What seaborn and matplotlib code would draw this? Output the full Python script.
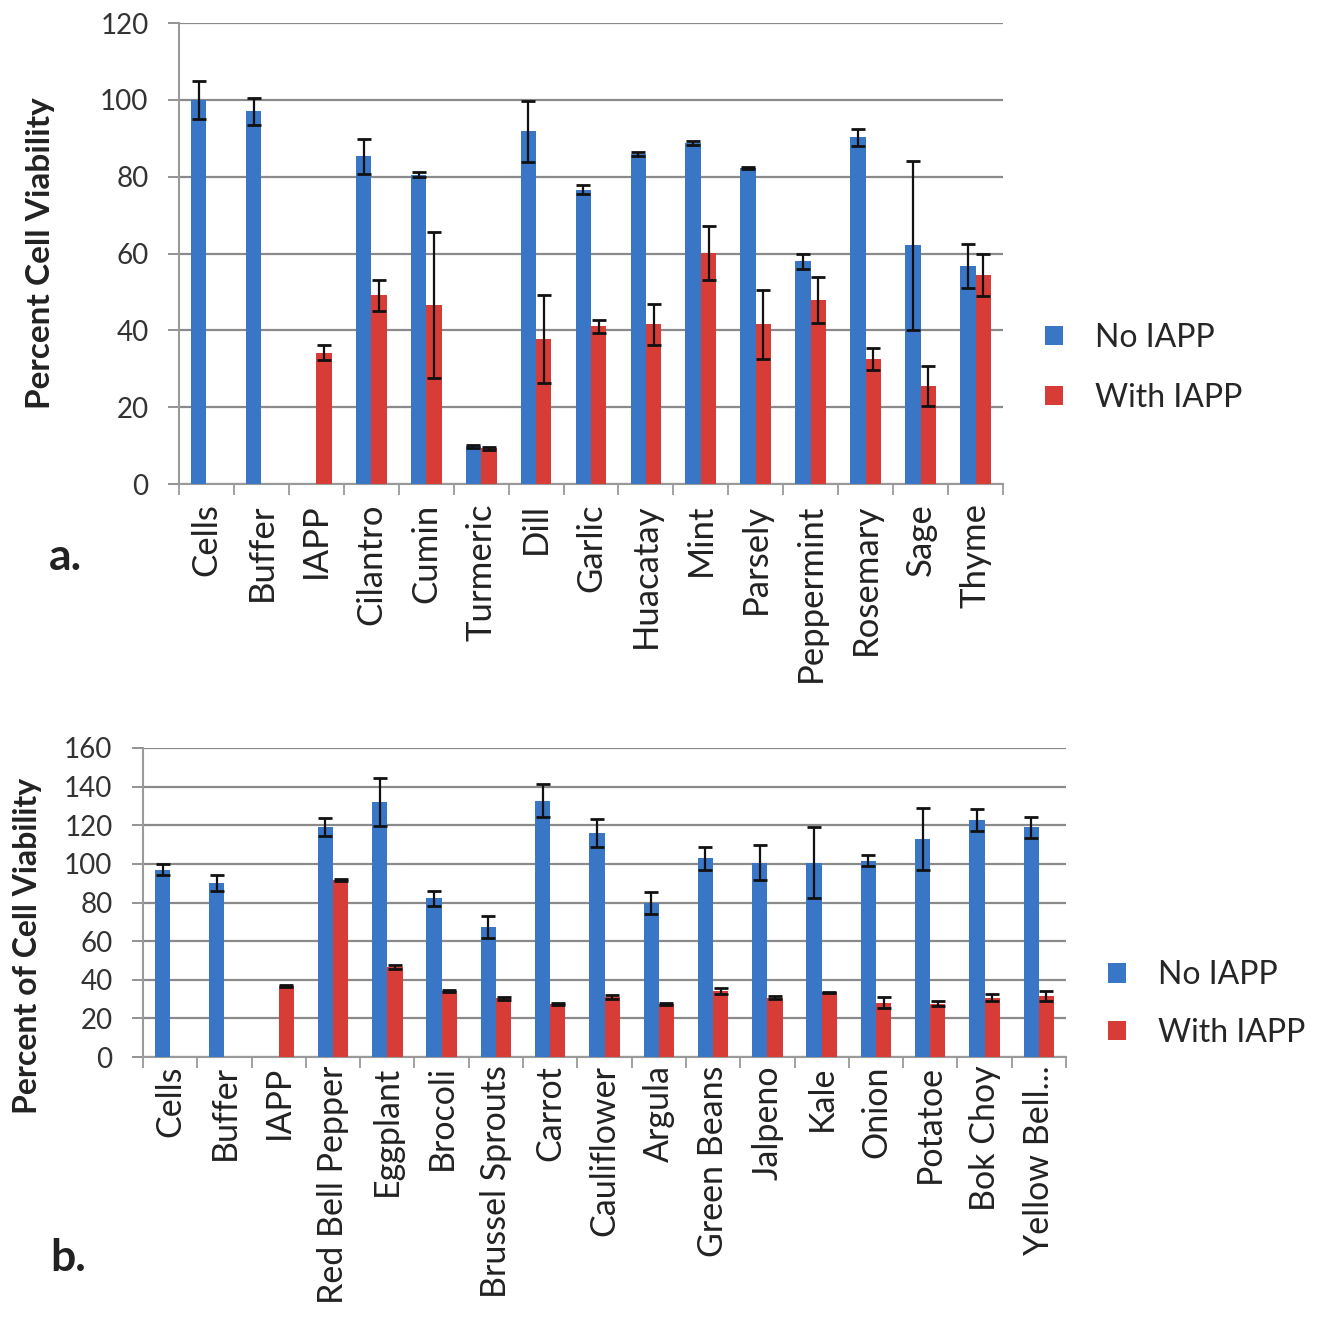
import numpy as np
import pandas as pd
import matplotlib
matplotlib.use("Agg")
import matplotlib.pyplot as plt
from matplotlib.ticker import FixedLocator
import seaborn as sns

# ---------------- data ----------------
cats_a = ["Cells", "Buffer", "IAPP", "Cilantro", "Cumin", "Turmeric", "Dill", "Garlic",
          "Huacatay", "Mint", "Parsely", "Peppermint", "Rosemary", "Sage", "Thyme"]
no_a = [100, 97, 0, 85.3, 80.5, 9.8, 91.8, 76.6, 86, 88.7, 82.3, 58, 90.2, 62.1, 56.7]
no_a_err = [5, 3.5, np.nan, 4.5, 0.6, 0.4, 8, 1.2, 0.5, 0.5, 0.3, 2, 2.2, 22, 5.8]
with_a = [0, 0, 34.2, 49.1, 46.5, 9.3, 37.8, 41.1, 41.6, 60.2, 41.6, 48, 32.5, 25.5, 54.4]
with_a_err = [np.nan, np.nan, 2, 4, 19, 0.4, 11.5, 1.7, 5.3, 7, 9, 6, 2.8, 5.2, 5.5]

cats_b = ["Cells", "Buffer", "IAPP", "Red Bell Pepper", "Eggplant", "Brocoli", "Brussel Sprouts",
          "Carrot", "Cauliflower", "Argula", "Green Beans", "Jalpeno", "Kale", "Onion",
          "Potatoe", "Bok Choy", "Yellow Bell..."]
no_b = [97, 90, 0, 119, 132, 82.2, 67.4, 132.7, 115.9, 79.6, 102.9, 100.6, 100.6, 101.7, 113, 122.8, 119]
no_b_err = [3, 4, np.nan, 4.7, 12.4, 4, 5.7, 8.6, 7.4, 5.7, 6, 9, 18.4, 3, 16, 5.7, 5.5]
with_b = [0, 0, 36.8, 91.7, 46.7, 34.2, 30.3, 27.3, 31.1, 27.3, 34.2, 30.6, 33.4, 28.2, 27.7, 30.8, 31.6]
with_b_err = [np.nan, np.nan, 0.5, 0.5, 1, 0.5, 1, 0.5, 1, 0.5, 1.6, 0.8, 0.5, 2.9, 1.5, 1.7, 2.6]

series_names = ["No IAPP", "With IAPP"]
colors = ["#3A76C6", "#D83C37"]

ticks_a = [0, 20, 40, 60, 80, 100, 120]
ticks_b = [0, 20, 40, 60, 80, 100, 120, 140, 160]

# ---------------- style ----------------
sns.set_theme(style="white")
plt.rcParams['font.family'] = ['Lato', 'DejaVu Sans']
TXT = "#222222"
GRID = "#8a8a8a"


def make_df(cats, a, b):
    return pd.DataFrame({
        "cat": list(cats) * 2,
        "series": [series_names[0]] * len(cats) + [series_names[1]] * len(cats),
        "value": list(a) + list(b),
    })


def panel(fig, rect, cats, a, a_err, b, b_err, yticks, ylabel, ylabel_fs, ylabel_pos,
          legend_anchor, labelspacing, xtick_fs, xpad):
    ax = fig.add_axes(rect)
    df = make_df(cats, a, b)
    sns.barplot(data=df, x="cat", y="value", hue="series", order=cats,
                hue_order=series_names, palette=colors, saturation=1, width=0.56,
                errorbar=None, linewidth=0, ax=ax, legend=False, zorder=3)
    # error bars, positioned from the drawn bars
    for cont, errs in zip(ax.containers, [a_err, b_err]):
        xs, ys, es = [], [], []
        for p, e in zip(cont.patches, errs):
            if np.isnan(e):
                continue
            xs.append(p.get_x() + p.get_width() / 2)
            ys.append(p.get_height())
            es.append(e)
        ax.errorbar(xs, ys, yerr=es, fmt="none", ecolor="#111111",
                    elinewidth=1.6, capsize=5, capthick=2, zorder=4)
    ax.set_ylim(yticks[0], yticks[-1])
    ax.set_xlim(-0.5, len(cats) - 0.5)
    ax.set_yticks(yticks)
    ax.set_yticklabels([str(t) for t in yticks], fontsize=20, color="#333333")
    ax.yaxis.grid(True, color=GRID, linewidth=1.6, zorder=0)
    ax.set_axisbelow(True)
    for s in ["top", "right"]:
        ax.spines[s].set_visible(False)
    for s in ["left", "bottom"]:
        ax.spines[s].set_color("#9a9a9a")
        ax.spines[s].set_linewidth(1.5)
    ax.tick_params(axis="y", direction="out", length=8, width=1.3, color="#8a8a8a", pad=14, left=True)
    ax.set_xticks(range(len(cats)))
    ax.set_xticklabels(cats, rotation=90, fontsize=xtick_fs, color=TXT, va="top", ha="center")
    ax.tick_params(axis="x", which="major", length=0, pad=xpad)
    ax.xaxis.set_minor_locator(FixedLocator(np.arange(-0.5, len(cats), 1.0)))
    ax.tick_params(axis="x", which="minor", direction="out", length=8, width=1.3, color="#9a9a9a", bottom=True)
    ax.set_xlabel("")
    ax.set_ylabel(ylabel, fontsize=ylabel_fs, fontweight="bold", color=TXT)
    ax.yaxis.set_label_coords(*ylabel_pos)
    handles = [plt.Rectangle((0, 0), 1, 1, facecolor=c, edgecolor="none") for c in colors]
    fig.legend(handles, series_names, loc="center left", bbox_to_anchor=legend_anchor,
               bbox_transform=fig.transFigure, frameon=False, fontsize=23,
               handlelength=0.55, handleheight=0.55, handletextpad=1.0,
               labelspacing=labelspacing, borderaxespad=0, borderpad=0)
    return ax


fig = plt.figure(figsize=(13.24, 13.25), dpi=100)
fig.patch.set_facecolor("white")

W, H = 1324, 1325
ax_a = panel(fig, [179 / W, 1 - 484 / H, 824 / W, 461 / H], cats_a, no_a, no_a_err,
             with_a, with_a_err, ticks_a, "Percent Cell Viability", 24, (-0.150, 0.5),
             (1045 / W, 1 - 368 / H), 0.95, 25, 14)
ax_b = panel(fig, [143 / W, 1 - 1057 / H, 923 / W, 309 / H], cats_b, no_b, no_b_err,
             with_b, with_b_err, ticks_b, "Percent of Cell Viability", 23, (-0.109, 0.36),
             (1108 / W, 1 - 1004 / H), 0.85, 24.5, 6)

fig.text(65 / W, 1 - 557 / H, "a.", fontsize=32, fontweight="bold", color=TXT, ha="center", va="center")
fig.text(68 / W, 1 - 1258 / H, "b.", fontsize=32, fontweight="bold", color=TXT, ha="center", va="center")

fig.savefig("out.png", dpi=100, facecolor="white")
